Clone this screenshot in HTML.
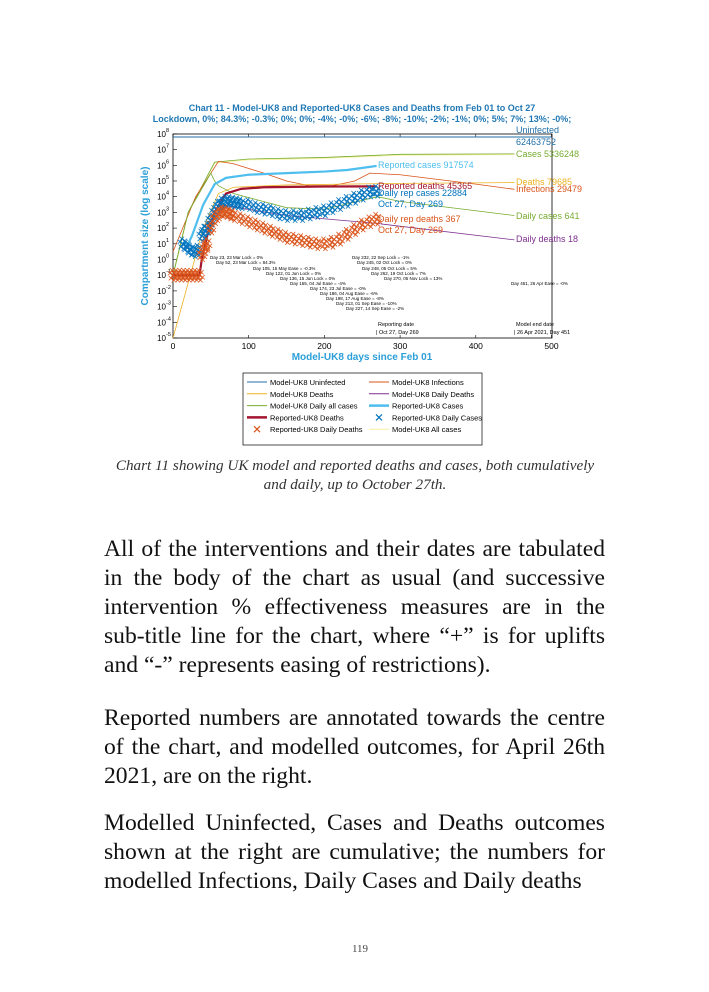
<!DOCTYPE html>
<html><head><meta charset="utf-8"><style>
body{margin:0;width:709px;height:992px;background:#fff;position:relative;overflow:hidden;font-family:"Liberation Serif",serif}
.p{position:absolute;left:104px;width:501px;font-size:23.6px;line-height:29px;text-align:justify;color:#111}
.cap{position:absolute;left:105px;width:500px;top:456px;text-align:center;font-style:italic;font-size:15.2px;line-height:19px;color:#333}
</style></head><body>
<svg width="709" height="450" style="position:absolute;left:0;top:0" font-family="Liberation Sans, sans-serif">
<g id="g"></g>
</svg>
<div class="cap">Chart 11 showing UK model and reported deaths and cases, both cumulatively and daily, up to October 27th.</div>
<div class="p" style="top:535px">All of the interventions and their dates are tabulated in the body of the chart as usual (and successive intervention % effectiveness measures are in the sub-title line for the chart, where “+” is for uplifts and “-” represents easing of restrictions).</div>
<div class="p" style="top:704px">Reported numbers are annotated towards the centre of the chart, and modelled outcomes, for April 26th 2021, are on the right.</div>
<div class="p" style="top:809px">Modelled Uninfected, Cases and Deaths outcomes shown at the right are cumulative; the numbers for modelled Infections, Daily Cases and Daily deaths</div>
<div style="position:absolute;left:340px;width:40px;top:943px;text-align:center;font-size:11px;color:#444">119</div>
<script>
const xTicks=[0,100,200,300,400,500];
const yTicks=[-5,-4,-3,-2,-1,0,1,2,3,4,5,6,7,8];
const uninfDays=[0,500];const uninfVals=[7.8,7.8];
const casesDays=[0,20,55,100,200,300,451];const casesVals=[-1,3,6.2,6.4,6.5,6.7,6.73];
const infDays=[0,30,60,80,120,150,180,210,240,260,300,400,451];const infVals=[0.5,4,6.25,6.1,5.5,5.0,4.7,4.7,5.0,5.5,5.4,4.8,4.47];
const deathDays=[0,40,60,80,150,300,451];const deathVals=[-5,2,4.2,4.6,4.75,4.85,4.9];
const dcDays=[0,20,50,55,60,80,150,200,270,300,451];const dcVals=[-1,3,5.5,5.0,4.7,4.2,3.3,3.2,4.0,3.7,2.8];
const ddDays=[60,150,269,451];const ddVals=[3.5,2.8,2.3,1.25];
const rcDays=[13,20,25,40,55,70,100,150,200,230,260,269];const rcVals=[1,1,1.5,3.5,4.8,5.2,5.4,5.5,5.6,5.7,5.9,5.96];
const rdDays=[0,35,38,45,55,70,90,120,200,269];const rdVals=[-1,-1,0,1.5,3,4.2,4.5,4.6,4.65,4.66];
const rdcDays=[13,18,23,28,33,38,42,46,50,55,60,65,70,75,80,85,90,100,110,120,130,140,150,160,170,180,190,200,210,220,230,240,250,260,269];
const rdcVals=[1,0.8,0.6,0.5,0.6,1.5,1.8,2,2.5,3,3.4,3.6,3.7,3.7,3.65,3.6,3.55,3.5,3.3,3.2,3.1,2.9,2.8,2.8,2.8,2.9,3.0,3.1,3.3,3.5,3.7,3.9,4.1,4.3,4.35];
const rddDays=[0,5,10,15,20,25,30,35,38,42,45,50,55,60,65,70,75,80,90,100,110,120,130,140,150,160,170,180,190,200,210,220,230,240,250,260,269];
const rddVals=[-1,-1,-1,-1,-1,-1,-1,-1,0.3,0.7,1,2,2.6,2.9,3.05,3.0,2.9,2.8,2.6,2.4,2.2,2.0,1.8,1.6,1.4,1.3,1.2,1.1,1.0,1.0,1.1,1.3,1.6,1.9,2.2,2.4,2.56];
const X=d=>173+d*0.757, Y=v=>338-(v+5)*15.7;
const ns="http://www.w3.org/2000/svg", g=document.getElementById('g');
function el(t,a,txt){const e=document.createElementNS(ns,t);for(const k in a)e.setAttribute(k,a[k]);if(txt!==undefined)e.textContent=txt;g.appendChild(e);return e;}
function line(ds,vs,col,w,name,dash){const e=el('polyline',{points:ds.map((d,i)=>X(d)+','+Y(vs[i])).join(' '),fill:'none',stroke:col,'stroke-width':w,'stroke-dasharray':dash||''});

}
function txt(x,y,s,col,size,anchor,w,name){const e=el('text',{x:x,y:y,fill:col,'font-size':size,'text-anchor':anchor||'start','font-weight':w||'normal'},s);

}
el('rect',{x:173,y:134,width:379,height:204,fill:'none',stroke:'#000','stroke-width':0.8});
xTicks.forEach(t=>{el('line',{x1:X(t),x2:X(t),y1:338,y2:335,stroke:'#000','stroke-width':0.6});el('line',{x1:X(t),x2:X(t),y1:134,y2:137,stroke:'#000','stroke-width':0.6});txt(X(t),349,String(t),'#000',8.5,'middle','normal','x-tick-label');});
yTicks.forEach(t=>{el('line',{x1:173,x2:177,y1:Y(t),y2:Y(t),stroke:'#000','stroke-width':0.6});txt(166,Y(t)+3,'10','#000',8,'end','normal','y-tick-label');txt(166,Y(t)-2,String(t),'#000',5.5,'start','normal','y-tick-exp');});
txt(362,111,'Chart 11 - Model-UK8 and Reported-UK8 Cases and Deaths from Feb 01 to Oct 27','#1f78b4',9,'middle','bold','chart-title');
txt(362,122,'Lockdown, 0%; 84.3%; -0.3%; 0%; 0%; -4%; -0%; -6%; -8%; -10%; -2%; -1%; 0%; 5%; 7%; 13%; -0%;','#1f78b4',9,'middle','bold','chart-subtitle');
txt(362,360,'Model-UK8 days since Feb 01','#2b9fd8',10,'middle','bold','x-axis-title');
const yt=el('text',{x:0,y:0,fill:'#2b9fd8','font-size':10,'font-weight':'bold','text-anchor':'middle',transform:'translate(148,236) rotate(-90)'},'Compartment size (log scale)');


line(casesDays,casesVals.map(v=>v-0.05),'#f5f0a0',1,'model-all-cases-line');
line(uninfDays,uninfVals,'#1f6fa8',1,'model-uninfected-line');
line(casesDays,casesVals,'#77ac30',0.8,'model-cases-line');
line(infDays,infVals,'#d95319',0.8,'model-infections-line');
line(deathDays,deathVals,'#edb120',0.8,'model-deaths-line');
line(dcDays,dcVals,'#77ac30',0.8,'model-daily-cases-line');
line(ddDays,ddVals,'#7e2f8e',0.8,'model-daily-deaths-line');
line(rcDays,rcVals,'#4dbeee',2.2,'reported-cases-line');
line(rdDays,rdVals,'#a2142f',2.2,'reported-deaths-line');
function cross(d,v,col,name){const x=X(d),y=Y(v),s=2.2;[[0,0],[3,2],[-3,-2],[2,-3],[-2,3],[1,5],[-1,-5]].forEach(o=>{const p=el('path',{d:`M${x+o[0]-s},${y+o[1]-s}L${x+o[0]+s},${y+o[1]+s}M${x+o[0]-s},${y+o[1]+s}L${x+o[0]+s},${y+o[1]-s}`,stroke:col,'stroke-width':0.8,fill:'none'});

});}
rdcDays.forEach((d,i)=>cross(d,rdcVals[i],'#0072bd','reported-daily-case-marker'));
rddDays.forEach((d,i)=>cross(d,rddVals[i],'#d95319','reported-daily-death-marker'));
txt(516,133,'Uninfected','#1f6fa8',9,'start','normal','label-uninfected');
txt(516,145,'62463752','#1f6fa8',9,'start','normal','label-uninfected-value');
txt(516,157,'Cases 5336248','#77ac30',9,'start','normal','label-cases');
txt(378,168,'Reported cases 917574','#4dbeee',9,'start','normal','label-reported-cases');
txt(516,185,'Deaths 79685','#edb120',9,'start','normal','label-deaths');
txt(516,192,'Infections 29479','#d95319',9,'start','normal','label-infections');
txt(378,189,'Reported deaths 45365','#a2142f',9,'start','normal','label-reported-deaths');
txt(378,196,'Daily rep cases 22884','#0072bd',9,'start','normal','label-daily-rep-cases');
txt(378,207,'Oct 27, Day 269','#0072bd',9,'start','normal','label-daily-rep-cases-date');
txt(516,219,'Daily cases 641','#77ac30',9,'start','normal','label-daily-cases');
txt(378,222,'Daily rep deaths 367','#d95319',9,'start','normal','label-daily-rep-deaths');
txt(378,233,'Oct 27, Day 269','#d95319',9,'start','normal','label-daily-rep-deaths-date');
txt(516,242,'Daily deaths 18','#7e2f8e',9,'start','normal','label-daily-deaths');
const ann=[[210,259,'Day 23, 23 Mar Lock = 0%'],[216,264,'Day 52, 23 Mar Lock = 84.3%'],[253,270,'Day 105, 15 May Ease = -0.3%'],[266,275,'Day 122, 01 Jun Lock = 0%'],[280,280,'Day 136, 15 Jun Lock = 0%'],[290,285,'Day 155, 04 Jul Ease = -4%'],[310,290,'Day 174, 23 Jul Ease = -0%'],[320,295,'Day 186, 04 Aug Ease = -6%'],[326,300,'Day 198, 17 Aug Ease = -8%'],[336,305,'Day 213, 01 Sep Ease = -10%'],[346,310,'Day 227, 14 Sep Ease = -2%'],[352,259,'Day 232, 22 Sep Lock = -1%'],[357,264,'Day 245, 02 Oct Lock = 0%'],[362,270,'Day 248, 05 Oct Lock = 5%'],[371,275,'Day 262, 19 Oct Lock = 7%'],[384,280,'Day 270, 05 Nov Lock = 13%'],[511,285,'Day 451, 26 Apr Ease = -0%']];
ann.forEach(a=>txt(a[0],a[1],a[2],'#000',4.5,'start','normal','intervention-annotation'));
txt(378,326,'Reporting date','#000',5.5,'start','normal','reporting-date-label');
txt(376,334,'| Oct 27, Day 269','#000',5.5,'start','normal','reporting-date-value');
txt(516,326,'Model end date','#000',5.5,'start','normal','model-end-label');
txt(514,334,'| 26 Apr 2021, Day 451','#000',5.5,'start','normal','model-end-value');
const lg=el('rect',{x:243,y:373,width:239,height:72,fill:'#fff',stroke:'#000','stroke-width':0.7});


const leg=[['Model-UK8 Uninfected','#1f6fa8','l',1],['Model-UK8 Infections','#d95319','l',1],['Model-UK8 Deaths','#edb120','l',1],['Model-UK8 Daily Deaths','#7e2f8e','l',1],['Model-UK8 Daily all cases','#77ac30','l',1],['Reported-UK8 Cases','#4dbeee','l',2.5],['Reported-UK8 Deaths','#a2142f','l',2.5],['Reported-UK8 Daily Cases','#0072bd','x',1],['Reported-UK8 Daily Deaths','#d95319','x',1],['Model-UK8 All cases','#f5f0a0','l',1]];
leg.forEach((e,i)=>{const cx=i%2?369:247,cy=382+Math.floor(i/2)*11.8;
if(e[2]=='l')el('line',{x1:cx,x2:cx+20,y1:cy,y2:cy,stroke:e[1],'stroke-width':e[3]});
else el('path',{d:`M${cx+7},${cy-3}L${cx+13},${cy+3}M${cx+7},${cy+3}L${cx+13},${cy-3}`,stroke:e[1],'stroke-width':1.2});
txt(cx+23,cy+3,e[0],'#000',7.5,'start','normal','legend-entry');});
</script>
</body></html>
